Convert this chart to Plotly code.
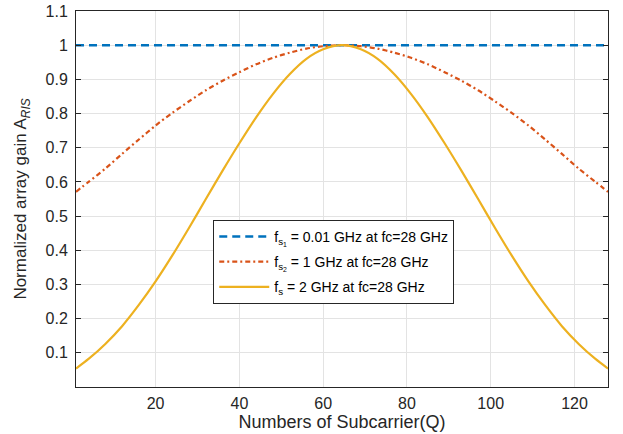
import plotly.graph_objects as go

# Subcarrier index samples
subcarrier = [1, 4, 8, 12, 16, 20, 24, 28, 32, 36, 40, 44, 48, 52, 56, 60,
              64.5,
              69, 73, 77, 81, 85, 89, 93, 97, 101, 105, 109, 113, 117, 121, 125, 128]

# Normalized array gain for each sampling bandwidth
gain_fs1_x = [1, 128]
gain_fs1 = [1.0, 1.0]

gain_fs2 = [0.571, 0.600, 0.639, 0.682, 0.724, 0.765, 0.802, 0.836, 0.868, 0.896,
            0.921, 0.944, 0.963, 0.978, 0.990, 0.997,
            1.000,
            0.997, 0.990, 0.978, 0.963, 0.944, 0.921, 0.896, 0.868, 0.836,
            0.802, 0.765, 0.724, 0.682, 0.639, 0.600, 0.571]

gain_fs = [0.054, 0.082, 0.126, 0.178, 0.240, 0.309, 0.385, 0.466, 0.550, 0.633,
           0.713, 0.789, 0.857, 0.915, 0.960, 0.988,
           1.000,
           0.988, 0.960, 0.915, 0.857, 0.789, 0.713, 0.633, 0.550, 0.466,
           0.385, 0.309, 0.240, 0.178, 0.126, 0.082, 0.054]

x_range = [1, 128]
x_ticks = [20, 40, 60, 80, 100, 120]
y_ticks = [0.1, 0.2, 0.3, 0.4, 0.5, 0.6, 0.7, 0.8, 0.9, 1.0, 1.1]
y_tick_text = ["0.1", "0.2", "0.3", "0.4", "0.5", "0.6", "0.7", "0.8", "0.9", "1", "1.1"]

FONT = "Liberation Sans, Arial, Helvetica, sans-serif"
INK = "#262626"

fig = go.Figure()
fig.add_trace(go.Scatter(
    x=gain_fs1_x, y=gain_fs1, mode="lines", legendgroup="a",
    name="f<sub>s<sub>1</sub></sub> = 0.01 GHz at fc=28 GHz",
    line=dict(color="#0072BD", width=2.5, dash="8px,5px"),
))
fig.add_trace(go.Scatter(
    x=subcarrier, y=gain_fs2, mode="lines", legendgroup="b",
    name="f<sub>s<sub>2</sub></sub> = 1 GHz at fc=28 GHz",
    line=dict(color="#D95319", width=2.2, dash="5px,3px,2px,3px", shape="spline", smoothing=0.8),
))
fig.add_trace(go.Scatter(
    x=subcarrier, y=gain_fs, mode="lines", legendgroup="c",
    name="f<sub>s</sub> = 2 GHz at fc=28 GHz",
    line=dict(color="#EDB120", width=2.2, shape="spline", smoothing=0.8),
))

# Bottom axis: labels spaced from the axis by a short invisible outer tick
fig.update_xaxes(
    range=x_range, tickvals=x_ticks, automargin=False,
    showline=True, linecolor=INK, linewidth=1, mirror=True,
    ticks="outside", ticklen=2, tickcolor="rgba(0,0,0,0)",
    showgrid=True, gridcolor="#E3E3E3", gridwidth=1, zeroline=False,
    tickfont=dict(family=FONT, size=16, color=INK),
    title=dict(text="Numbers of Subcarrier(Q)", font=dict(family=FONT, size=18, color=INK),
               standoff=4),
)
fig.update_yaxes(
    range=[0, 1.1], tickvals=y_ticks, ticktext=y_tick_text, automargin=False,
    showline=True, linecolor=INK, linewidth=1, mirror="ticks",
    ticks="inside", ticklen=5, tickcolor=INK,
    showgrid=True, gridcolor="#E3E3E3", gridwidth=1, zeroline=False,
    tickfont=dict(family=FONT, size=16, color=INK),
    title=dict(text="Normalized array gain A<sub><i>RIS</i></sub>",
               font=dict(family=FONT, size=17, color=INK), standoff=14),
    ticklabelstandoff=4,
)

# Inward tick marks on bottom and top edges
fig.update_layout(xaxis2=dict(
    overlaying="x", matches="x", anchor="y", side="bottom", automargin=False,
    range=x_range, tickvals=x_ticks, showticklabels=False,
    showline=True, linecolor=INK, linewidth=1, mirror="ticks",
    ticks="inside", ticklen=5, tickcolor=INK,
    showgrid=False, zeroline=False,
))

fig.update_layout(
    width=623, height=434,
    margin=dict(l=76, r=15, t=11, b=47, autoexpand=False),
    paper_bgcolor="white", plot_bgcolor="white",
    font=dict(family=FONT, color=INK),
    legend=dict(
        x=0.258, y=0.4446, xanchor="left", yanchor="top",
        bgcolor="white", bordercolor=INK, borderwidth=1,
        font=dict(family=FONT, size=14, color="#000000"),
        itemwidth=50, tracegroupgap=4,
    ),
    showlegend=True,
)

fig.write_html("out.html")
